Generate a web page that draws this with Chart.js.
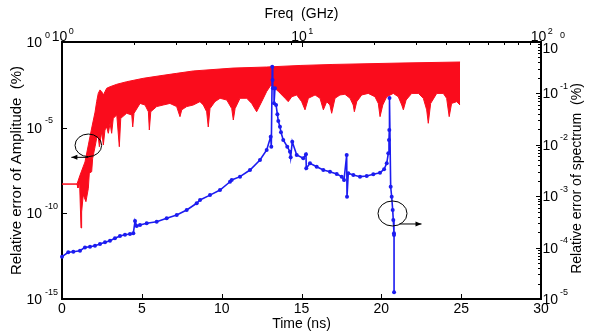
<!DOCTYPE html>
<html>
<head>
<meta charset="utf-8">
<script src="https://cdn.jsdelivr.net/npm/chart.js@4.4.1/dist/chart.umd.min.js"></script>
<style>
  html, body { margin: 0; padding: 0; background: #fff; }
  #wrap { width: 592px; height: 335px; }
</style>
</head>
<body>
<div id="wrap"><canvas id="chart"></canvas></div>
<script>
const FONT = '"Liberation Sans", Arial, Helvetica, sans-serif'
const RED = 'rgb(250,12,28)'
const BLUE = 'rgb(28,28,240)'

// amplitude error vs time (ns) - upper edge of the oscillation band
const ampTopT = [0, 0.94, 1.13, 1.44, 1.65, 1.86, 2.07, 2.17, 2.27, 2.38,
  2.49, 2.59, 2.69, 2.80, 3.01, 3.43, 4.05, 5.09, 6.14, 7.18,
  8.22, 10.71, 12.82, 14.91, 16.97, 21.17, 24.93]
const ampTopV = [5.1e-9, 5.1e-9, 1.7e-8, 1.0e-7, 9.8e-7, 9.5e-6, 8.1e-5, 3.3e-4, 1.0e-3, 1.6e-3,
  1.26e-3, 8.1e-4, 1.26e-3, 2.0e-3, 2.45e-3, 3.4e-3, 4.8e-3, 7.6e-3, 0.0107, 0.0148,
  0.0204, 0.030, 0.0347, 0.0427, 0.049, 0.059, 0.068]

// lower edge of the oscillation band (the dips)
const ampLowT = [0, 0.94, 1.00, 1.10, 1.19, 1.23, 1.33, 1.50, 1.65, 1.71,
  1.86, 1.92, 2.07, 2.17, 2.27, 2.34, 2.49, 2.59, 2.69, 2.80,
  2.90, 3.01, 3.11, 3.21, 3.43, 3.59, 3.68, 4.05, 4.37, 4.43,
  4.51, 4.89, 5.20, 5.41, 5.47, 5.56, 5.93, 6.34, 6.76, 7.18,
  7.39, 7.50, 7.81, 8.22, 8.64, 8.85, 9.06, 9.16, 9.27, 9.58,
  9.90, 10.32, 10.63, 10.73, 10.84, 11.15, 11.57, 11.88, 12.19, 12.51,
  12.82, 13.09, 13.55, 13.97, 14.17, 14.39, 14.70, 15.01, 15.22, 15.43,
  15.85, 16.16, 16.37, 16.58, 16.78, 16.89, 17.10, 17.41, 17.72, 18.04,
  18.24, 18.31, 18.46, 18.77, 19.18, 19.60, 19.81, 19.92, 20.09, 20.34,
  20.75, 21.06, 21.28, 21.38, 21.55, 21.90, 22.32, 22.63, 22.84, 22.94,
  23.09, 23.47, 23.88, 24.09, 24.25, 24.40, 24.72, 24.93]
const ampLowV = [5.1e-9, 5.1e-9, 3.0e-9, 6.7e-9, 1.4e-11, 1.2e-10, 1.2e-9, 4.8e-10, 2.9e-9, 2.2e-8,
  2.7e-8, 1.6e-7, 7.7e-7, 2.4e-6, 3.0e-6, 7.7e-7, 5.8e-6, 9.7e-7, 7.3e-6, 1.1e-5,
  4.7e-6, 1.8e-5, 4.7e-6, 3.5e-5, 5.5e-5, 7.7e-7, 3.5e-5, 6.9e-5, 5.5e-5, 1.1e-5,
  6.9e-5, 2.6e-4, 2.1e-4, 8.5e-5, 7.3e-6, 8.5e-5, 1.7e-4, 2.1e-4, 2.6e-4, 1.7e-4,
  4.4e-5, 1.1e-4, 1.7e-4, 2.1e-4, 3.3e-4, 2.1e-4, 8.5e-5, 1.1e-5, 1.3e-4, 3.3e-4,
  5.2e-4, 4.1e-4, 1.3e-4, 2.8e-5, 1.3e-4, 5.2e-4, 5.2e-4, 2.6e-4, 8.5e-5, 3.3e-4,
  1.3e-3, 3.1e-3, 1.3e-3, 5.2e-4, 3.3e-4, 6.4e-4, 8.1e-4, 3.3e-4, 1.1e-4, 5.2e-4,
  8.1e-4, 5.2e-4, 1.1e-4, 3.3e-4, 2.1e-4, 6.9e-5, 5.2e-4, 8.1e-4, 8.9e-4, 5.2e-4,
  2.1e-4, 8.5e-5, 3.3e-4, 8.1e-4, 1.0e-3, 6.4e-4, 2.6e-4, 4.4e-5, 2.1e-4, 6.4e-4,
  1.0e-3, 6.4e-4, 2.1e-4, 1.1e-4, 4.1e-4, 1.0e-3, 1.0e-3, 5.2e-4, 1.1e-4, 1.8e-5,
  2.6e-4, 1.0e-3, 1.0e-3, 5.2e-4, 4.4e-5, 2.6e-4, 3.3e-4, 2.1e-4]

// spectrum error vs frequency (GHz)
const specF = [1.000, 1.062, 1.115, 1.189, 1.247, 1.309, 1.373, 1.441, 1.512, 1.586,
  1.664, 1.746, 1.832, 1.922, 1.985, 2.018, 2.051, 2.117, 2.258, 2.485,
  2.736, 3.013, 3.317, 3.651, 3.770, 4.150, 4.568, 5.029, 5.112, 5.537,
  6.095, 6.709, 7.155, 7.436, 7.48, 7.55, 7.57, 7.60, 7.75, 7.68,
  7.83, 7.93, 8.00, 8.13, 8.21, 8.39, 8.72, 8.95, 9.01, 9.15,
  9.55, 10.17, 10.44, 10.47, 10.85, 11.57, 12.33, 13.15, 14.03, 14.72,
  15.05, 15.44, 15.49, 15.68, 16.46, 17.55, 18.72, 19.94, 21.27, 22.12,
  22.69, 23.04, 23.19, 23.26, 23.30, 23.57, 23.80, 24.03, 24.17, 24.33,
  24.34, 24.35]
const specV = [6.65e-5, 8.1e-5, 8.3e-5, 8.7e-5, 1.01e-4, 1.04e-4, 1.09e-4, 1.17e-4, 1.27e-4, 1.36e-4,
  1.52e-4, 1.68e-4, 1.78e-4, 1.84e-4, 1.90e-4, 3.30e-4, 2.63e-4, 2.75e-4, 2.97e-4, 3.19e-4,
  3.72e-4, 4.31e-4, 5.39e-4, 7.28e-4, 8.43e-4, 1.05e-3, 1.32e-3, 1.91e-3, 2.07e-3, 2.40e-3,
  3.23e-3, 5.06e-3, 7.92e-3, 1.44e-2, 9.2e-3, 0.331, 0.182, 0.126, 0.126, 0.0642,
  0.0595, 0.0392, 0.0290, 0.0225, 0.0175, 0.0124, 9.18e-3, 7.34e-3, 5.71e-3, 0.0115,
  6.33e-3, 5.46e-3, 6.53e-3, 3.49e-3, 4.37e-3, 3.75e-3, 3.23e-3, 3.00e-3, 2.70e-3, 2.40e-3,
  2.07e-3, 6.33e-3, 9.78e-4, 2.79e-3, 2.59e-3, 2.40e-3, 2.47e-3, 2.67e-3, 2.87e-3, 3.34e-3,
  4.37e-3, 6.84e-3, 0.0124, 0.0194, 0.0814, 1.53e-3, 9.78e-4, 5.39e-4, 3.44e-4, 1.90e-4,
  1.76e-4, 1.35e-5]

// tick labels
const timeTicks = [0, 5, 10, 15, 20, 25, 30]
const ampTicks = [1e-15, 1e-10, 1e-5, 1]
const specTicks = [1e-5, 1e-4, 1e-3, 1e-2, 1e-1, 1]
const freqTicks = [1, 10, 100]

// circled curves with arrows pointing at their axis (time ns, amplitude %)
const notes = [
  { t: 1.65, v: 9.3e-7, rx: 13.3, ry: 11.3, dy: 12, from: 0, to: -17 },
  { t: 20.7, v: 9.8e-11, rx: 14.5, ry: 12.5, dy: 10.5, from: 7, to: 29 }
]

function minors(list) {
  let out = []
  for (let i = 0; i < list.length - 1; i++) {
    for (let k = 2; k < 10; k++) out.push(list[i] * k)
  }
  return out
}

function expOf(v) {
  return String(Math.round(Math.log10(v)))
}

const decor = {
  id: 'decor',
  afterDraw(chart) {
    const { ctx, chartArea: a, scales: s } = chart
    ctx.save()
    ctx.strokeStyle = '#000'
    ctx.fillStyle = '#000'
    ctx.lineWidth = 1

    const seg = (x1, y1, x2, y2) => {
      ctx.beginPath(); ctx.moveTo(x1, y1); ctx.lineTo(x2, y2); ctx.stroke()
    }
    const px = v => Math.round(v) + 0.5

    // inward ticks
    timeTicks.forEach(v => { const x = px(s.x.getPixelForValue(v)); seg(x, a.bottom, x, a.bottom - 5) })
    ampTicks.forEach(v => { const y = px(s.y.getPixelForValue(v)); seg(a.left, y, a.left + 5, y) })
    specTicks.forEach(v => { const y = px(s.y2.getPixelForValue(v)); seg(a.right, y, a.right - 5, y) })
    minors(specTicks).forEach(v => { const y = px(s.y2.getPixelForValue(v)); seg(a.right, y, a.right - 3, y) })
    freqTicks.forEach(v => { const x = px(s.x2.getPixelForValue(v)); seg(x, a.top, x, a.top + 5) })
    minors(freqTicks).forEach(v => { const x = px(s.x2.getPixelForValue(v)); seg(x, a.top, x, a.top + 3) })

    // power-of-ten labels
    const big = '14px ' + FONT, small = '9px ' + FONT
    ctx.textBaseline = 'alphabetic'
    ampTicks.forEach(v => {
      const y = s.y.getPixelForValue(v)
      ctx.font = big; ctx.textAlign = 'right'; ctx.fillText('10', a.left - 20, y + 5)
      ctx.font = small; ctx.textAlign = 'left'; ctx.fillText(expOf(v), a.left - 17, y - 4.5)
    })
    specTicks.forEach(v => {
      const y = s.y2.getPixelForValue(v)
      ctx.font = big; ctx.textAlign = 'left'
      const w = ctx.measureText('10').width
      ctx.fillText('10', a.right + 1.5, y + (v === 1 ? 11 : 5))
      ctx.font = small; ctx.fillText(expOf(v), a.right + 3.5 + w, y - 4.5)
    })
    freqTicks.forEach(v => {
      const x = s.x2.getPixelForValue(v)
      ctx.font = big; ctx.textAlign = 'left'
      const w = ctx.measureText('10').width
      const l = x - 2.5 - w / 2
      ctx.fillText('10', l, a.top - 1)
      ctx.font = small; ctx.fillText(expOf(v), l + w + 1.5, a.top - 8)
    })

    // right axis title, reading upwards
    ctx.save()
    ctx.font = big
    ctx.textAlign = 'center'
    ctx.textBaseline = 'middle'
    ctx.translate(577, (a.top + a.bottom) / 2 + 8)
    ctx.rotate(-Math.PI / 2)
    ctx.fillText('Relative error of spectrum  (%)', 0, 0)
    ctx.restore()

    // ellipses + arrows
    notes.forEach(n => {
      const cx = s.x.getPixelForValue(n.t), cy = s.y.getPixelForValue(n.v)
      ctx.beginPath()
      ctx.ellipse(cx, cy, n.rx, n.ry, 0, 0, 2 * Math.PI)
      ctx.stroke()
      const ay = cy + n.dy, x0 = cx + n.from, x1 = cx + n.to
      const d = Math.sign(n.to - n.from)
      seg(x0, ay, x1, ay)
      ctx.beginPath()
      ctx.moveTo(x1, ay)
      ctx.lineTo(x1 - d * 6, ay - 2.5)
      ctx.lineTo(x1 - d * 6, ay + 2.5)
      ctx.closePath()
      ctx.fill()
    })
    ctx.restore()
  }
}

const axisFont = { family: FONT, size: 14 }
const border = { display: true, color: '#000', width: 2 }

new Chart('chart', {
  type: 'line',
  data: {
    datasets: [
      {
        data: specF.map((f, i) => ({ x: f, y: specV[i] })),
        xAxisID: 'x2', yAxisID: 'y2',
        borderColor: BLUE, backgroundColor: BLUE,
        borderWidth: 1.6, pointRadius: 2, pointBorderWidth: 0,
        fill: false, clip: false
      },
      {
        data: ampTopT.map((t, i) => ({ x: t, y: ampTopV[i] })),
        xAxisID: 'x', yAxisID: 'y',
        borderColor: RED, borderWidth: 1, pointRadius: 0, fill: false
      },
      {
        data: ampLowT.map((t, i) => ({ x: t, y: ampLowV[i] })),
        xAxisID: 'x', yAxisID: 'y',
        borderColor: RED, backgroundColor: RED,
        borderWidth: 1, pointRadius: 0, fill: '-1'
      }
    ]
  },
  options: {
    responsive: true,
    maintainAspectRatio: false,
    animation: false,
    layout: { padding: 0 },
    plugins: { legend: { display: false }, tooltip: { enabled: false } },
    scales: {
      x: {
        type: 'linear', position: 'bottom', min: 0, max: 30,
        grid: { display: false, drawTicks: false }, border: border,
        ticks: { color: '#000', font: axisFont, padding: 2, maxRotation: 0, autoSkip: false },
        afterBuildTicks: sc => { sc.ticks = timeTicks.map(v => ({ value: v })) },
        title: { display: true, text: 'Time (ns)', color: '#000', font: axisFont, padding: { top: 0, bottom: 2 } },
        afterFit: sc => { sc.height = 36 }
      },
      y: {
        type: 'logarithmic', position: 'left', min: 1e-15, max: 1,
        grid: { display: false, drawTicks: false }, border: border,
        ticks: { display: false },
        afterBuildTicks: sc => { sc.ticks = ampTicks.map(v => ({ value: v })) },
        title: { display: true, text: 'Relative error of Amplitude  (%)', color: '#000', font: { family: FONT, size: 15 }, padding: { top: 8, bottom: 0 } },
        afterFit: sc => { sc.width = 62 }
      },
      x2: {
        type: 'logarithmic', position: 'top', min: 1, max: 100,
        grid: { display: false, drawTicks: false }, border: border,
        ticks: { display: false },
        afterBuildTicks: sc => { sc.ticks = freqTicks.map(v => ({ value: v })) },
        title: { display: true, text: 'Freq  (GHz)', color: '#000', font: axisFont, padding: { top: 6, bottom: 0 } },
        afterFit: sc => { sc.height = 42 }
      },
      y2: {
        type: 'logarithmic', position: 'right', min: 1e-5, max: 1,
        grid: { display: false, drawTicks: false }, border: border,
        ticks: { display: false },
        afterBuildTicks: sc => { sc.ticks = specTicks.map(v => ({ value: v })) },
        afterFit: sc => { sc.width = 51 }
      }
    }
  },
  plugins: [decor]
})
</script>
</body>
</html>
